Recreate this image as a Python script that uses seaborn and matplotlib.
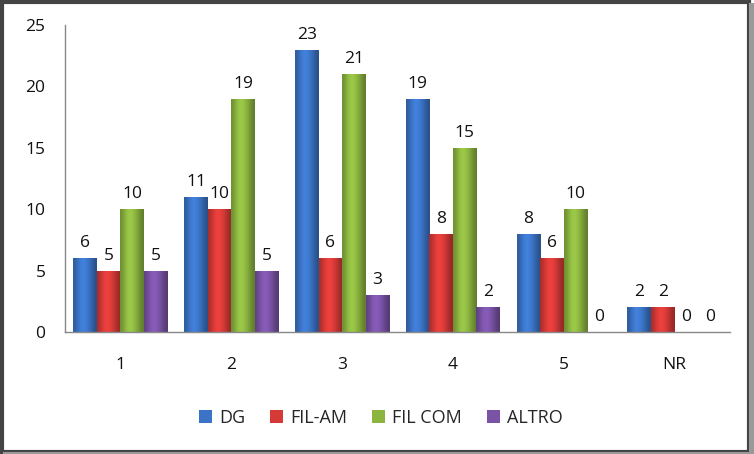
import matplotlib
matplotlib.use("Agg")
import matplotlib.pyplot as plt
import seaborn as sns
import pandas as pd
import numpy as np
from matplotlib.patches import Rectangle
from matplotlib.colors import to_rgb

categories = ["1", "2", "3", "4", "5", "NR"]
series = ["DG", "FIL-AM", "FIL COM", "ALTRO"]
dg = [6, 11, 23, 19, 8, 2]
fil_am = [5, 10, 6, 8, 6, 2]
fil_com = [10, 19, 21, 15, 10, 0]
altro = [5, 5, 3, 2, 0, 0]
yticks = [0, 5, 10, 15, 20, 25]

colors = ["#3B74C6", "#D63A37", "#8CB540", "#7A53A6"]

rows = []
for name, vals in zip(series, [dg, fil_am, fil_com, altro]):
    for c, v in zip(categories, vals):
        rows.append({"cat": c, "val": v, "series": name})
df = pd.DataFrame(rows)

sns.set_style("white")
plt.rcParams['font.family'] = ['Open Sans', 'DejaVu Sans']

fig = plt.figure(figsize=(7.54, 4.54), dpi=100)
ax = fig.add_axes([65/754, 1-332/454, 665/754, 307/454])

sns.barplot(data=df, x="cat", y="val", hue="series", order=categories,
            hue_order=series, palette=colors, width=0.85, gap=0,
            saturation=1, ax=ax, edgecolor="none", linewidth=0)

ax.set_ylim(0, 25)
ax.set_xlim(-0.5, len(categories) - 0.5)

# gradient shading overlay on each bar (visual only)
prof = np.array([0.80, 0.92, 1.05, 1.12, 1.10, 1.02, 0.92, 0.80, 0.70])
for cont, col in zip(ax.containers, colors):
    base = np.array(to_rgb(col))
    img = np.clip(prof[:, None] * base[None, :], 0, 1)[None, :, :]
    for p in cont.patches:
        h = p.get_height()
        if h <= 0:
            continue
        x0 = p.get_x(); w = p.get_width()
        im = ax.imshow(img, extent=[x0, x0 + w, 0, h], aspect="auto",
                       interpolation="bicubic", zorder=p.get_zorder() + 0.1)
        im.set_clip_path(p)

for cont in ax.containers:
    ax.bar_label(cont, labels=[f"{int(v)}" for v in cont.datavalues],
                 padding=5, fontsize=12.5, color="#111111")

ax.set_ylim(0, 25)
ax.set_xlim(-0.5, len(categories) - 0.5)
ax.set_yticks(yticks)
ax.set_xlabel("")
ax.set_ylabel("")
for s in ["top", "right"]:
    ax.spines[s].set_visible(False)
for s in ["left", "bottom"]:
    ax.spines[s].set_color("#888888")
    ax.spines[s].set_linewidth(1)
    ax.spines[s].set_zorder(5)
ax.tick_params(axis="y", length=0, pad=14, labelsize=12.5, colors="#111111")
ax.tick_params(axis="x", length=0, pad=18, labelsize=12.5, colors="#111111")

handles, labels = ax.get_legend_handles_labels()
ax.legend(handles, labels, loc="center", bbox_to_anchor=(381/754, 1-418/454),
          bbox_transform=fig.transFigure, ncol=4, frameon=False,
          fontsize=13, handlelength=0.7, handleheight=0.7,
          handletextpad=0.4, columnspacing=1.4)

fig.patches.append(Rectangle((0.002, 0.004), 0.992, 0.992, transform=fig.transFigure,
                             fill=False, edgecolor="#444444", linewidth=3))
fig.patches.append(Rectangle((0.0035, 0.0), 0.9945, 0.004, transform=fig.transFigure,
                             facecolor="#999999", edgecolor="none"))
fig.patches.append(Rectangle((0.994, 0.0), 0.006, 0.994, transform=fig.transFigure,
                             facecolor="#999999", edgecolor="none"))

fig.savefig("out.png", dpi=100)
